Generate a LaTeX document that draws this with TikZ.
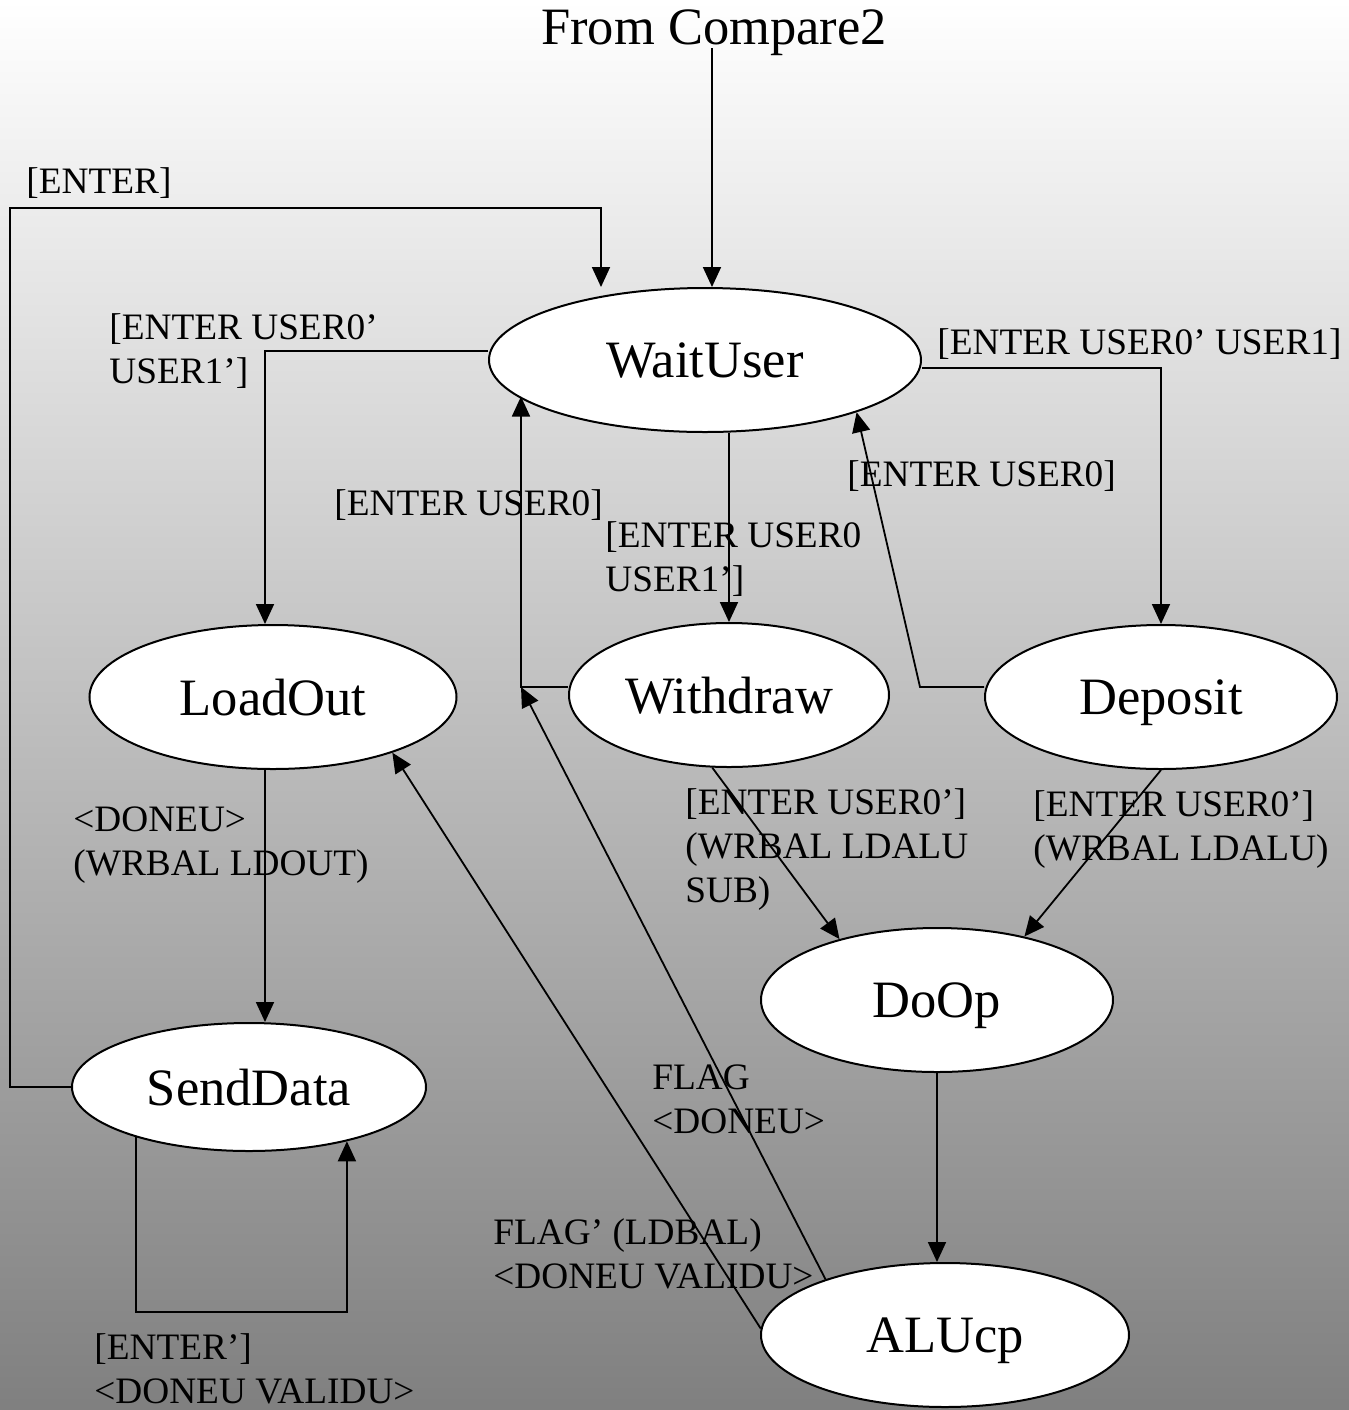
\documentclass[tikz,border=0pt]{standalone}
\usepackage{fontspec}
\setmainfont{Liberation Serif}
\usetikzlibrary{shapes.geometric,arrows.meta,calc}
\newcommand{\statefont}{\fontsize{26.25}{31}\selectfont}
\newcommand{\lblfont}{\fontsize{18.65}{21.8}\selectfont}

\begin{document}
\begin{tikzpicture}[x=0.5pt,y=-0.5pt,
        state/.style={ellipse,draw,fill=white,line width=1pt,inner sep=0pt,text depth=0pt,font=\statefont},
        lbl/.style={anchor=base west,inner sep=0pt,align=left,font=\lblfont},
        arr/.style={-{Triangle[length=10pt,width=9pt]},line width=0.9pt}]
                \shade [top color=white,bottom color=black!50] (0,0) rectangle (1349,1410);
                \useasboundingbox (0,0) rectangle (1349,1410);
                \node [anchor=base,inner sep=0pt,font=\statefont] (title) at (714,44) {From Compare2};
                \node [state,minimum width=216pt,minimum height=72pt] (wait) at (705,360) {WaitUser};
                \node [state,minimum width=183.5pt,minimum height=72pt] (load) at (273,697) {LoadOut};
                \node [state,minimum width=160pt,minimum height=72pt] (withdr) at (729,695) {Withdraw};
                \node [state,minimum width=176pt,minimum height=72pt] (depo) at (1161,697) {Deposit};
                \node [state,minimum width=176pt,minimum height=72pt] (doop) at (937,1000) {DoOp};
                \node [state,minimum width=177pt,minimum height=64pt] (send) at (249,1087) {SendData};
                \node [state,minimum width=184pt,minimum height=72pt] (alu) at (945,1335) {ALUcp};
                \node [lbl] (lenter) at (26,193) {[ENTER]};
                \node [lbl] (lload) at (109,383) {[ENTER USER0’\\USER1’]};
                \node [lbl] (ldep) at (937,354) {[ENTER USER0’ USER1]};
                \node [lbl] (lretdep) at (847,486) {[ENTER USER0]};
                \node [lbl] (lretwd) at (334,515) {[ENTER USER0]};
                \node [lbl] (lwd) at (605,591) {[ENTER USER0\\USER1’]};
                \node [lbl] (lwdop) at (685,902) {[ENTER USER0’]\\(WRBAL LDALU\\SUB)};
                \node [lbl] (ldepop) at (1033,860) {[ENTER USER0’]\\(WRBAL LDALU)};
                \node [lbl] (lldout) at (73,875) {<DONEU>\\(WRBAL LDOUT)};
                \node [lbl] (lflag) at (652,1133) {FLAG\\<DONEU>};
                \node [lbl] (lflagn) at (493,1288) {FLAG’ (LDBAL)\\<DONEU VALIDU>};
                \node [lbl] (lsend) at (94,1403) {[ENTER’]\\<DONEU VALIDU>};
                \coordinate (src) at (712,48);
                \coordinate (wcorner) at (521,687);
                \coordinate (ldown) at ($(load.south)+(-8,0)$);
                \draw [arr] (src) -- (src |- wait.north);
                \draw [arr] (send.west) -| (10,208) -| ($(wait.north)+(-104,0)$);
                \draw [arr] ($(wait.west)+(0,-9)$) -| ($(load.north)+(-8,0)$);
                \draw [arr] ($(wait.east)+(0,8)$) -| (depo.north);
                \draw [arr] (withdr.north |- wait.south) -- (withdr.north);
                \draw [arr] ($(withdr.west)+(0,-8)$) -- (wcorner) -- (wcorner |- wait.191);
                \draw [arr] ($(depo.west)+(0,-10)$) -- ++(-64,0) -- (wait.341);
                \draw [arr] (withdr.257) -- (doop.148);
                \draw [arr] (depo.south) -- (doop.36);
                \draw [arr] (doop.south) -- (doop.south |- alu.north);
                \draw [arr] (alu.155) -- (wcorner);
                \draw [arr] (alu.178) -- (load.335);
                \draw [arr] (ldown) -- (ldown |- send.north);
                \draw [arr] (send.204) -- ++(0,175) -| (send.331);
            \end{tikzpicture}
\end{document}
